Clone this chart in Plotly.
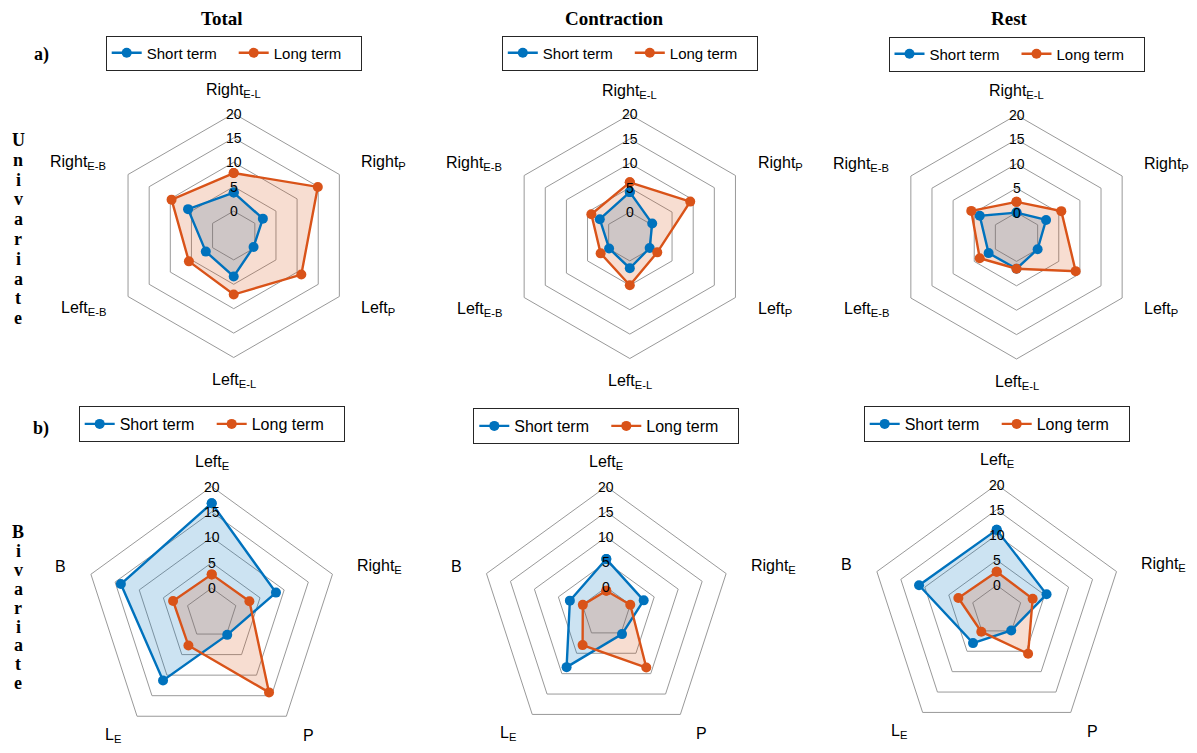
import math
import plotly.graph_objects as go

# page has an 8px body margin; figure fills the rest of the 1197x753 window
OFF = 8
FW, FH = 1189, 745

def px(X):
    return (X - OFF) / FW

def py(Y):
    return 1 - (Y - OFF) / FH

# ---- categories ----
uni_categories = ["Right<sub>E-L</sub>", "Right<sub>P</sub>", "Left<sub>P</sub>",
                  "Left<sub>E-L</sub>", "Left<sub>E-B</sub>", "Right<sub>E-B</sub>"]
bi_categories = ["Left<sub>E</sub>", "Right<sub>E</sub>", "P", "L<sub>E</sub>", "B"]

# ---- series values ----
uni_total_short = [3.8, 1.9, -0.3, 3.4, 1.6, 5.8]
uni_total_long = [7.8, 14.9, 11.0, 7.1, 5.6, 9.7]
uni_contr_short = [4.1, 0.3, -0.3, 1.5, -0.1, 2.1]
uni_contr_long = [6.1, 9.3, 1.5, 5.0, 1.9, 4.1]
uni_rest_short = [0.0, 2.0, 0.0, 1.5, 1.6, 3.7]
uni_rest_long = [2.2, 5.6, 9.0, 1.5, 3.7, 5.7]

bi_total_short = [16.7, 8.3, 0.2, 11.3, 13.8]
bi_total_long = [2.7, 2.8, 14.2, 2.8, 3.0]
bi_contr_short = [5.6, 2.8, 0.3, 8.4, 2.6]
bi_contr_long = [-0.7, 0.0, 8.5, 3.0, -0.1]
bi_rest_short = [11.0, 5.4, -0.1, 3.0, 11.2]
bi_rest_long = [2.7, 2.5, 5.6, 0.2, 3.0]

# ---- tick labels / text ----
radial_range = [-5, 20]          # axis minimum sits at the centre
radial_ticks = [0, 5, 10, 15, 20]
radial_ticktext = ["0", "5", "10", "15", "20"]
column_titles = ["Total", "Contraction", "Rest"]
series_names = ["Short term", "Long term"]
row_labels = ["a)", "b)"]
row_words = ["Univariate", "Bivariate"]

BLUE = "#0072BD"
ORANGE = "#D95319"
BLUE_FILL = "rgba(0,114,189,0.2)"
ORANGE_FILL = "rgba(217,83,25,0.2)"
GRID = "#999999"
SANS = "Arial, Liberation Sans, sans-serif"
SERIF = "Times New Roman, Liberation Serif, serif"

# panel placement in window px: (center x, center y, radius), legend font
panels = [
    (uni_categories, uni_total_short, uni_total_long, (233.7, 235.5, 122), 15),
    (uni_categories, uni_contr_short, uni_contr_long, (629.8, 236.5, 122), 15),
    (uni_categories, uni_rest_short, uni_rest_long, (1016.5, 237.0, 122), 15),
    (bi_categories, bi_total_short, bi_total_long, (211.7, 613.5, 127), 16),
    (bi_categories, bi_contr_short, bi_contr_long, (606.3, 612.5, 126), 16),
    (bi_categories, bi_rest_short, bi_rest_long, (996.7, 610.5, 126), 16),
]
legend_y = [53, 53, 54, 424, 426, 424]
entry_w = [82, 82, 82, 87, 87, 87]
LABEL_R = 1.19   # axis-label distance, as a fraction of the outer radius

base = radial_range[0]
span = radial_range[1] - radial_range[0]

def to_axis(vals):
    # radial axis runs from the range minimum (centre) outwards
    return [v - base for v in vals]

fig = go.Figure()
layout = dict(width=FW, height=FH, margin=dict(l=0, r=0, t=0, b=0),
              paper_bgcolor="white", plot_bgcolor="white", annotations=[])

for i, (cats, short, long_, (cx, cy, r), lfs) in enumerate(panels):
    pid = "polar" if i == 0 else f"polar{i+1}"
    lid = "legend" if i == 0 else f"legend{i+1}"
    series = [(series_names[0], short, BLUE, BLUE_FILL),
              (series_names[1], long_, ORANGE, ORANGE_FILL)]
    # shaded areas
    for name, vals, col, fillc in series:
        rr = to_axis(vals)
        fig.add_trace(go.Scatterpolar(
            r=rr + [rr[0]], theta=list(cats) + [cats[0]], mode="lines",
            line=dict(width=0, color=col), fill="toself", fillcolor=fillc,
            subplot=pid, showlegend=False, hoverinfo="skip"))
    # outlines with markers
    for name, vals, col, fillc in series:
        rr = to_axis(vals)
        fig.add_trace(go.Scatterpolar(
            r=rr + [rr[0]], theta=list(cats) + [cats[0]],
            customdata=list(vals) + [vals[0]], hovertemplate="%{theta}: %{customdata}",
            mode="lines+markers", name=name, subplot=pid, legend=lid,
            line=dict(color=col, width=2.4), marker=dict(color=col, size=10)))
    layout[pid] = dict(
        domain=dict(x=[px(cx - r), px(cx + r)], y=[py(cy + r), py(cy - r)]),
        gridshape="linear", bgcolor="rgba(0,0,0,0)",
        radialaxis=dict(range=[0, span], tickvals=to_axis(radial_ticks), showticklabels=False,
                        showline=False, ticks="", gridcolor=GRID, gridwidth=1),
        angularaxis=dict(direction="clockwise", rotation=90, showgrid=False,
                         showline=True, linecolor=GRID, linewidth=1,
                         ticks="", showticklabels=False))
    layout[lid] = dict(x=px(cx), y=py(legend_y[i]), xanchor="center", yanchor="middle",
                       orientation="h", bgcolor="white", bordercolor="#262626", borderwidth=1,
                       font=dict(family=SANS, size=lfs, color="black"),
                       itemwidth=30, entrywidth=entry_w[i], tracegroupgap=0)
    # radial tick labels along the first (top) axis
    for v, t in zip(radial_ticks, radial_ticktext):
        yy = cy - r * (v - base) / span
        layout["annotations"].append(dict(text=t, x=px(cx), y=py(yy), xref="paper", yref="paper",
                                          showarrow=False, xanchor="center", yanchor="middle",
                                          font=dict(family=SANS, size=14, color="black")))
    # axis (category) labels around the polygon
    n = len(cats)
    for k, lab in enumerate(cats):
        ang = math.radians(90 - 360 * k / n)
        c, s = math.cos(ang), math.sin(ang)
        X = cx + LABEL_R * r * c
        Y = cy - LABEL_R * r * s
        xa = "left" if c > 0.1 else ("right" if c < -0.1 else "center")
        layout["annotations"].append(dict(text=lab, x=px(X), y=py(Y), xref="paper", yref="paper",
                                          showarrow=False, xanchor=xa, yanchor="middle",
                                          font=dict(family=SANS, size=16, color="black")))

# column titles
for t, x in zip(column_titles, [221.5, 614, 1009]):
    layout["annotations"].append(dict(text=f"<b>{t}</b>", x=px(x), y=py(19), xref="paper",
                                      yref="paper", showarrow=False, xanchor="center", yanchor="middle",
                                      font=dict(family=SERIF, size=19, color="black")))
# row labels
for t, y in zip(row_labels, [55, 428]):
    layout["annotations"].append(dict(text=f"<b>{t}</b>", x=px(41), y=py(y), xref="paper",
                                      yref="paper", showarrow=False, xanchor="center", yanchor="middle",
                                      font=dict(family=SERIF, size=18, color="black")))
# vertical stacked words
for word, y0, step in zip(row_words, [140, 532], [19.8, 18.9]):
    for k, ch in enumerate(word):
        layout["annotations"].append(dict(text=f"<b>{ch}</b>", x=px(18), y=py(y0 + k * step),
                                          xref="paper", yref="paper", showarrow=False,
                                          xanchor="center", yanchor="middle",
                                          font=dict(family=SERIF, size=18, color="black")))

fig.update_layout(**layout)
fig.write_html("out.html")
